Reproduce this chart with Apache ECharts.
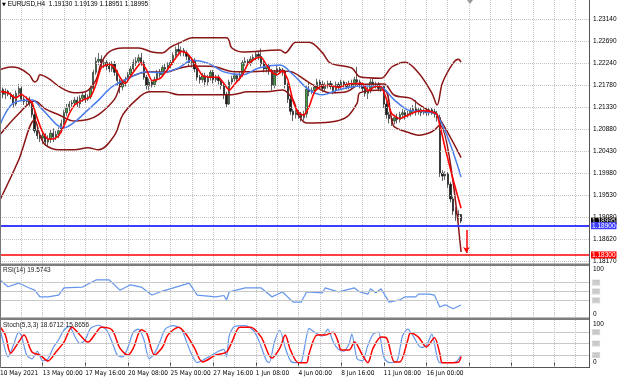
<!DOCTYPE html>
<html><head><meta charset="utf-8">
<script src="https://cdn.jsdelivr.net/npm/echarts@6/dist/echarts.min.js"></script>
<style>html,body{margin:0;padding:0;background:#fff}#c{width:620px;height:382px}</style>
</head><body><div id="c"></div>
<script>
// ---------- DATA ----------
const symbolName = 'EURUSD,H4';
const lastBarOHLC = ['1.19130', '1.19139', '1.18951', '1.18995'];
const rsiCaption = 'RSI(14) 19.5743';
const stochCaption = 'Stoch(5,3,3) 18.6712 15.8656';
const xTickLabels = ['10 May 2021','13 May 00:00','17 May 16:00','20 May 08:00','25 May 00:00','27 May 16:00','1 Jun 08:00','4 Jun 00:00','8 Jun 16:00','11 Jun 08:00','16 Jun 00:00'];
const priceTicks = [1.23140,1.22690,1.22240,1.21780,1.21330,1.20880,1.20430,1.19980,1.19530,1.19080,1.18620,1.18170];
const oscTicks = [0, 100];
const rsiLevels = [70, 50, 30];
const stochLevels = [80, 50, 20];
const blueLevel = 1.18900;
const redLevel = 1.18300;
const bidPrice = 1.18995;
const arrowFrom = [175, 1.1881];
const arrowTo = [175, 1.1834];

// candles: [open, close, low, high]
const candles = [
[1.2165,1.2170,1.2158,1.2178],[1.2170,1.2160,1.2152,1.2174],[1.2160,1.2166,1.2150,1.2172],[1.2166,1.2160,1.2156,1.2169],
[1.2160,1.2155,1.2150,1.2164],[1.2155,1.2140,1.2133,1.2160],[1.2140,1.2162,1.2136,1.2168],[1.2162,1.2172,1.2158,1.2181],[1.2172,1.2150,1.2146,1.2176],[1.2150,1.2145,1.2138,1.2156],
[1.2145,1.2150,1.2138,1.2156],[1.2150,1.2140,1.2135,1.2155],[1.2140,1.2118,1.2112,1.2146],[1.2118,1.2085,1.2080,1.2128],[1.2085,1.2075,1.2068,1.2094],[1.2075,1.2070,1.2062,1.2082],
[1.2070,1.2075,1.2058,1.2082],[1.2075,1.2062,1.2055,1.2080],[1.2062,1.2068,1.2051,1.2076],[1.2068,1.2080,1.2060,1.2088],[1.2080,1.2072,1.2062,1.2090],[1.2072,1.2078,1.2066,1.2085],
[1.2078,1.2085,1.2070,1.2092],[1.2085,1.2100,1.2080,1.2108],[1.2100,1.2122,1.2096,1.2128],[1.2122,1.2132,1.2115,1.2140],[1.2132,1.2140,1.2125,1.2146],[1.2140,1.2142,1.2134,1.2148],
[1.2142,1.2148,1.2136,1.2154],[1.2148,1.2140,1.2134,1.2155],[1.2140,1.2152,1.2132,1.2158],[1.2152,1.2158,1.2144,1.2164],[1.2158,1.2150,1.2142,1.2166],[1.2150,1.2155,1.2146,1.2160],
[1.2155,1.2172,1.2150,1.2178],[1.2172,1.2205,1.2168,1.2210],[1.2205,1.2228,1.2200,1.2236],[1.2228,1.2232,1.2220,1.2245],[1.2232,1.2222,1.2215,1.2240],[1.2222,1.2225,1.2214,1.2232],
[1.2225,1.2218,1.2210,1.2230],[1.2218,1.2212,1.2205,1.2226],[1.2212,1.2222,1.2206,1.2228],[1.2222,1.2205,1.2198,1.2228],[1.2205,1.2188,1.2178,1.2210],[1.2188,1.2175,1.2162,1.2192],
[1.2175,1.2182,1.2168,1.2188],[1.2182,1.2190,1.2176,1.2196],[1.2190,1.2200,1.2184,1.2206],[1.2200,1.2212,1.2194,1.2218],[1.2212,1.2225,1.2205,1.2232],[1.2225,1.2228,1.2218,1.2236],
[1.2228,1.2235,1.2220,1.2242],[1.2235,1.2225,1.2218,1.2245],[1.2225,1.2195,1.2190,1.2230],[1.2195,1.2178,1.2170,1.2200],[1.2178,1.2185,1.2168,1.2192],[1.2185,1.2180,1.2174,1.2190],
[1.2180,1.2190,1.2175,1.2196],[1.2190,1.2205,1.2185,1.2210],[1.2205,1.2200,1.2194,1.2212],[1.2200,1.2215,1.2196,1.2220],[1.2215,1.2212,1.2204,1.2222],[1.2212,1.2220,1.2208,1.2226],
[1.2220,1.2225,1.2214,1.2230],[1.2225,1.2240,1.2220,1.2246],[1.2240,1.2252,1.2234,1.2258],[1.2252,1.2248,1.2240,1.2266],[1.2248,1.2250,1.2238,1.2258],[1.2250,1.2245,1.2238,1.2255],
[1.2245,1.2238,1.2230,1.2250],[1.2238,1.2225,1.2218,1.2242],[1.2225,1.2230,1.2215,1.2236],[1.2230,1.2212,1.2205,1.2234],[1.2212,1.2195,1.2188,1.2216],[1.2195,1.2190,1.2182,1.2200],
[1.2190,1.2198,1.2184,1.2204],[1.2198,1.2185,1.2176,1.2204],[1.2185,1.2195,1.2178,1.2200],[1.2195,1.2205,1.2188,1.2210],[1.2205,1.2190,1.2182,1.2210],[1.2190,1.2195,1.2185,1.2200],
[1.2195,1.2188,1.2180,1.2200],[1.2188,1.2178,1.2170,1.2192],[1.2178,1.2160,1.2150,1.2182],[1.2160,1.2140,1.2133,1.2165],[1.2140,1.2185,1.2138,1.2190],[1.2185,1.2192,1.2180,1.2198],
[1.2192,1.2198,1.2186,1.2204],[1.2198,1.2192,1.2185,1.2202],[1.2192,1.2200,1.2188,1.2206],[1.2200,1.2225,1.2196,1.2230],[1.2225,1.2228,1.2218,1.2236],[1.2228,1.2224,1.2218,1.2232],
[1.2224,1.2232,1.2218,1.2238],[1.2232,1.2236,1.2226,1.2242],[1.2236,1.2242,1.2230,1.2248],[1.2242,1.2238,1.2230,1.2250],[1.2238,1.2222,1.2215,1.2254],[1.2222,1.2212,1.2205,1.2228],
[1.2212,1.2218,1.2205,1.2224],[1.2218,1.2208,1.2200,1.2222],[1.2208,1.2178,1.2168,1.2212],[1.2178,1.2205,1.2172,1.2210],[1.2205,1.2212,1.2198,1.2218],[1.2212,1.2210,1.2204,1.2216],
[1.2210,1.2206,1.2198,1.2214],[1.2206,1.2180,1.2172,1.2210],[1.2180,1.2150,1.2142,1.2184],[1.2150,1.2125,1.2118,1.2155],[1.2125,1.2118,1.2105,1.2130],[1.2118,1.2122,1.2110,1.2128],
[1.2122,1.2118,1.2110,1.2128],[1.2118,1.2112,1.2104,1.2124],[1.2112,1.2120,1.2106,1.2126],[1.2120,1.2170,1.2112,1.2178],[1.2170,1.2165,1.2156,1.2184],[1.2165,1.2168,1.2160,1.2174],
[1.2168,1.2175,1.2160,1.2180],[1.2175,1.2185,1.2170,1.2192],[1.2185,1.2180,1.2172,1.2190],[1.2180,1.2172,1.2164,1.2188],[1.2172,1.2178,1.2165,1.2184],[1.2178,1.2182,1.2172,1.2188],
[1.2182,1.2176,1.2170,1.2188],[1.2176,1.2168,1.2160,1.2182],[1.2168,1.2180,1.2162,1.2186],[1.2180,1.2175,1.2168,1.2185],[1.2175,1.2185,1.2170,1.2190],[1.2185,1.2180,1.2174,1.2188],
[1.2180,1.2176,1.2170,1.2185],[1.2176,1.2182,1.2170,1.2188],[1.2182,1.2178,1.2170,1.2190],[1.2178,1.2190,1.2174,1.2196],[1.2190,1.2185,1.2178,1.2216],[1.2185,1.2178,1.2172,1.2190],
[1.2178,1.2172,1.2164,1.2184],[1.2172,1.2162,1.2155,1.2178],[1.2162,1.2168,1.2150,1.2175],[1.2168,1.2185,1.2162,1.2192],[1.2185,1.2178,1.2170,1.2192],[1.2178,1.2180,1.2172,1.2186],
[1.2180,1.2172,1.2166,1.2185],[1.2172,1.2176,1.2165,1.2182],[1.2176,1.2140,1.2132,1.2178],[1.2140,1.2118,1.2110,1.2146],[1.2118,1.2110,1.2100,1.2124],[1.2110,1.2105,1.2095,1.2115],
[1.2105,1.2112,1.2098,1.2118],[1.2112,1.2108,1.2100,1.2120],[1.2108,1.2118,1.2102,1.2124],[1.2118,1.2122,1.2110,1.2130],[1.2122,1.2116,1.2108,1.2128],[1.2116,1.2120,1.2112,1.2126],
[1.2120,1.2126,1.2114,1.2132],[1.2126,1.2130,1.2118,1.2138],[1.2130,1.2124,1.2116,1.2148],[1.2124,1.2128,1.2118,1.2134],[1.2128,1.2122,1.2115,1.2132],[1.2122,1.2125,1.2118,1.2130],
[1.2125,1.2122,1.2116,1.2130],[1.2122,1.2128,1.2116,1.2134],[1.2128,1.2124,1.2118,1.2132],[1.2124,1.2120,1.2112,1.2130],[1.2120,1.2112,1.2104,1.2126],[1.2112,1.1998,1.1990,1.2118],
[1.1998,1.1992,1.1982,1.2004],[1.1992,1.1996,1.1984,1.2002],[1.1996,1.1975,1.1968,1.2000],[1.1975,1.1945,1.1938,1.1980],[1.1945,1.1920,1.1912,1.1950],[1.1920,1.1913,1.1900,1.1928],
[1.1913,1.1913,1.1902,1.1922],[1.19130,1.18995,1.18951,1.19139]
];

// indicator lines: [bar index, value]
const upperBand = [[0,1.2210],[4,1.2216],[7,1.2214],[11,1.2200],[13,1.2185],[14,1.2189],[15,1.2200],[18,1.2193],[23,1.2173],[28,1.2163],[32,1.2165],[36,1.2189],[38,1.2224],[41,1.2247],[46,1.2255],[52,1.2255],[57,1.2247],[61,1.2245],[64,1.2257],[68,1.2267],[72,1.2276],[85,1.2276],[87,1.2255],[91,1.2247],[105,1.2251],[107,1.2245],[111,1.2267],[116,1.2267],[121,1.2245],[124,1.2224],[132,1.2214],[135,1.2196],[143,1.2193],[147,1.2216],[152,1.2226],[157,1.2204],[162,1.2163],[164,1.2138],[166,1.2183],[170,1.2224],[172,1.2232],[173,1.2226]];
const middleBand = [[0,1.2077],[7,1.2120],[13,1.2146],[17,1.2130],[22,1.2118],[28,1.2105],[33,1.2108],[37,1.2118],[43,1.2150],[46,1.2186],[51,1.2200],[56,1.2206],[62,1.2205],[67,1.2213],[72,1.2218],[80,1.2217],[87,1.2207],[93,1.2206],[100,1.2208],[106,1.2208],[110,1.2205],[116,1.2184],[124,1.2163],[130,1.2165],[135,1.2180],[144,1.2181],[148,1.2158],[154,1.2152],[157,1.2140],[162,1.2123],[164,1.2118],[173,1.2030]];
const lowerBand = [[0,1.1943],[7,1.2025],[13,1.2107],[15,1.2076],[17,1.2056],[22,1.2046],[28,1.2046],[33,1.2050],[37,1.2046],[43,1.2076],[46,1.2117],[51,1.2148],[56,1.2165],[62,1.2165],[67,1.2159],[75,1.2159],[87,1.2159],[93,1.2165],[100,1.2165],[106,1.2169],[110,1.2148],[112,1.2117],[115,1.2101],[124,1.2103],[130,1.2113],[134,1.2142],[135,1.2163],[144,1.2169],[147,1.2107],[148,1.2093],[154,1.2080],[157,1.2076],[162,1.2083],[165,1.2097],[173,1.1836]];
const blueMA = [[0,1.2097],[5,1.2142],[12,1.2148],[16,1.2128],[24,1.2091],[28,1.2103],[33,1.2128],[37,1.2148],[42,1.2175],[49,1.2195],[55,1.2206],[60,1.2204],[67,1.2214],[72,1.2230],[78,1.2224],[84,1.2206],[91,1.2200],[97,1.2214],[105,1.2220],[110,1.2200],[116,1.2169],[121,1.2159],[127,1.2169],[135,1.2177],[142,1.2177],[148,1.2148],[153,1.2128],[159,1.2124],[164,1.2117],[173,1.1990]];
const redMA = [[0,1.2166],[3,1.2163],[6,1.2152],[8,1.2160],[10,1.2152],[12,1.2143],[14,1.2110],[16,1.2082],[18,1.2068],[20,1.2068],[22,1.2075],[24,1.2095],[26,1.2120],[28,1.2138],[31,1.2148],[34,1.2155],[36,1.2180],[38,1.2215],[41,1.2222],[43,1.2215],[45,1.2195],[47,1.2182],[50,1.2205],[53,1.2225],[55,1.2210],[57,1.2188],[60,1.2192],[63,1.2212],[66,1.2235],[68,1.2248],[70,1.2245],[72,1.2232],[74,1.2215],[76,1.2198],[79,1.2195],[82,1.2195],[84,1.2182],[86,1.2168],[88,1.2180],[91,1.2200],[93,1.2222],[96,1.2234],[98,1.2236],[100,1.2220],[102,1.2205],[104,1.2200],[106,1.2208],[108,1.2190],[110,1.2145],[112,1.2122],[114,1.2117],[116,1.2135],[118,1.2165],[121,1.2178],[124,1.2178],[127,1.2174],[130,1.2180],[133,1.2182],[136,1.2182],[138,1.2168],[141,1.2176],[143,1.2176],[145,1.2150],[147,1.2120],[150,1.2110],[153,1.2117],[156,1.2124],[159,1.2126],[162,1.2124],[164,1.2118],[167,1.2050],[170,1.1985],[173,1.1926]];
const rsi = [[0,75.9],[3,60.8],[7,69],[11,58],[13,53],[15,38],[18,38],[22,42],[24,58],[31,60],[36,76],[41,76],[45,53],[49,65],[53,60],[57,42],[60,49],[66,60],[71,69],[74,42],[81,38],[84,41],[85,31],[86,49],[92,58],[98,58],[102,38],[106,49],[110,26],[113,26],[115,49],[121,47],[122,58],[127,49],[133,58],[135,49],[138,44],[139,56],[141,47],[143,56],[146,26],[150,31],[152,38],[156,38],[157,44],[161,44],[163,42],[165,15],[167,20],[170,11],[173,19.6]];
const stochMain = [[0,90],[1,60],[3,15],[5,45],[7,80],[8,72],[10,20],[12,10],[14,30],[16,5],[18,10],[20,40],[22,60],[24,85],[26,95],[28,70],[30,50],[32,60],[34,90],[37,98],[40,85],[42,55],[44,20],[46,15],[48,40],[50,80],[52,88],[54,60],[56,10],[58,25],[60,55],[62,88],[65,97],[68,88],[70,55],[72,20],[74,0],[77,10],[80,22],[82,30],[84,35],[85,15],[86,70],[88,95],[92,97],[95,85],[97,60],[100,5],[101,0],[103,55],[105,85],[107,40],[109,5],[111,0],[113,2],[114,30],[116,90],[118,80],[121,70],[123,88],[125,55],[127,35],[129,30],[131,50],[132,75],[134,10],[136,5],[138,45],[140,75],[142,80],[144,15],[146,0],[149,5],[151,70],[153,88],[155,70],[158,40],[160,45],[162,75],[164,15],[165,0],[168,0],[171,2],[173,18.67]];
const stochSignal = [[0,94],[2,72.5],[4,25],[7,54],[9,72.5],[12,28],[15,20],[18,4.5],[21,28],[24,54],[27,93],[30,72.5],[33,54],[36,78],[38,93],[42,86],[45,38],[48,20],[50,38],[53,86],[55,78],[58,20],[61,41],[63,72.5],[67,93],[70,72.5],[73,38],[76,2],[81,20],[85,28],[87,54],[90,93],[94,93],[98,67],[102,12],[105,38],[107,72.5],[109,33],[112,0],[115,0],[116,25],[119,72.5],[122,72.5],[125,80],[127,52],[128,33],[131,33],[133,54],[136,20],[138,0],[140,38],[143,67],[145,65],[148,2],[150,2],[153,59],[154,78],[157,67],[160,41],[163,65],[165,25],[166,0],[170,0],[172,1],[173,15.87]];

// ---------- CHART ----------
const slotCount = 222;
const slots = [];
for (let i = 0; i < slotCount; i++) slots.push(String(i));
const FONT = "'Liberation Sans', Arial, sans-serif";
const NARROW = "'Liberation Sans Narrow', 'DejaVu Sans Condensed', 'Liberation Sans', sans-serif";
const every16 = (i) => i % 16 === 0;
const every8 = (i) => i % 8 === 0;
const gridLine = {type: 'dotted', color: '#c4c4c4', width: 1};

const chart = echarts.init(document.getElementById('c'), null, {renderer: 'canvas'});

function xAxisFor(g) {
  return {
    type: 'category', gridIndex: g, data: slots, boundaryGap: false,
    axisLine: {show: false},
    axisTick: {show: g === 2, interval: every16, length: 3, lineStyle: {color: '#444'}},
    axisLabel: {show: g === 2, interval: every16, align: 'left', margin: 3,
      fontSize: 6.5, fontFamily: NARROW, color: '#000',
      formatter: (v, idx) => xTickLabels[Math.round(idx / 16)] || ''},
    splitLine: {show: true, interval: every8, lineStyle: gridLine}
  };
}
function yLabel(vals, fmt) {
  return {customValues: vals, formatter: fmt, fontSize: 6.5, fontFamily: FONT, color: '#000', margin: 4};
}
function lineSeries(name, data, color, width, x, y, smooth, z) {
  return {name, type: 'line', data, xAxisIndex: x, yAxisIndex: y, showSymbol: false, symbol: 'none',
    smooth: smooth, lineStyle: {color, width}, z: z || 3, silent: true};
}
function levelMarks(levels) {
  return {silent: true, symbol: 'none', precision: 6,
    lineStyle: {type: 'solid', color: '#c8c8c8', width: 1},
    label: {show: true, position: 'end', distance: 3, formatter: (p) => String(p.value),
      fontSize: 5.5, lineHeight: 6, fontFamily: FONT, color: '#b4b4b4', backgroundColor: '#d6d6d6', padding: [0, 1]},
    data: levels.map(v => ({yAxis: v}))};
}
// one helper series per horizontal price line
function priceLine(value, lineColor, lineWidth, labelBg, z) {
  return {type: 'line', data: [], xAxisIndex: 0, yAxisIndex: 0, z: z, silent: true,
    markLine: {silent: true, symbol: 'none', precision: 6,
      lineStyle: {color: lineColor, width: lineWidth, type: 'solid'},
      label: {show: true, position: 'end', distance: 2, color: '#fff', backgroundColor: labelBg,
        padding: [0, 1], lineHeight: 7, fontSize: 6.5, fontFamily: FONT, formatter: () => value.toFixed(5)},
      data: [{yAxis: value}]}};
}

const option = {
  animation: false,
  backgroundColor: '#ffffff',
  textStyle: {fontFamily: FONT},
  title: [
    {text: '{t|▼} ' + symbolName + '  ' + lastBarOHLC.join(' '), left: 2, top: 1, padding: 0,
      textStyle: {fontSize: 6.5, fontWeight: 'normal', color: '#000', fontFamily: FONT,
        rich: {t: {fontSize: 5, fontFamily: 'DejaVu Sans', color: '#000'}}}},
    {text: rsiCaption, left: 3, top: 266.5, padding: 0,
      textStyle: {fontSize: 6.5, fontWeight: 'normal', color: '#222', fontFamily: FONT}},
    {text: stochCaption, left: 3, top: 321.5, padding: 0,
      textStyle: {fontSize: 6.5, fontWeight: 'normal', color: '#222', fontFamily: FONT}}
  ],
  grid: [
    {left: 0, right: 31, top: 0, height: 264, outerBoundsMode: 'none'},
    {left: 0, right: 31, top: 266, height: 51, outerBoundsMode: 'none'},
    {left: 0, right: 31, top: 320, height: 47.2, outerBoundsMode: 'none'}
  ],
  xAxis: [xAxisFor(0), xAxisFor(1), xAxisFor(2)],
  yAxis: [
    {type: 'value', gridIndex: 0, position: 'right', min: 1.18114, max: 1.23536,
      axisLine: {show: false}, axisTick: {show: false}, splitLine: {show: false},
      axisLabel: yLabel(priceTicks, (v) => v.toFixed(5))},
    {type: 'value', gridIndex: 1, position: 'right', min: -7.4, max: 107.4,
      axisLine: {show: false}, axisTick: {show: false}, splitLine: {show: false},
      axisLabel: yLabel(oscTicks, (v) => String(Math.round(v)))},
    {type: 'value', gridIndex: 2, position: 'right', min: -11.8, max: 111.8,
      axisLine: {show: false}, axisTick: {show: false}, splitLine: {show: false},
      axisLabel: yLabel(oscTicks, (v) => String(Math.round(v)))}
  ],
  series: [
    {type: 'line', data: [], xAxisIndex: 0, yAxisIndex: 0, z: 1, silent: true,
      markLine: {silent: true, symbol: 'none', precision: 6, label: {show: false}, lineStyle: gridLine,
        data: priceTicks.map(v => ({yAxis: v}))}},
    {type: 'candlestick', data: candles, xAxisIndex: 0, yAxisIndex: 0, barWidth: 1.8, z: 2,
      itemStyle: {color: '#3da53d', color0: '#1a1a1a', borderColor: '#2c2c2c', borderColor0: '#1a1a1a', borderWidth: 0.7}},
    lineSeries('upper', upperBand, '#8b1515', 1.5, 0, 0, 0.35),
    lineSeries('middle', middleBand, '#8b1515', 1.5, 0, 0, 0.35),
    lineSeries('lower', lowerBand, '#8b1515', 1.5, 0, 0, 0.35),
    lineSeries('blue', blueMA, '#4a7cec', 1.5, 0, 0, 0.35),
    lineSeries('red', redMA, '#ff0000', 1.6, 0, 0, 0.15, 4),
    priceLine(bidPrice, 'rgba(0,0,0,0)', 1, '#000000', 6),
    priceLine(blueLevel, '#3c3cff', 2, '#3c3cff', 5),
    priceLine(redLevel, '#ff0000', 1.5, '#ff0000', 5),
    {type: 'line', data: [], xAxisIndex: 0, yAxisIndex: 0, z: 6, silent: true,
      markLine: {silent: true, symbol: ['none', 'arrow'], symbolSize: [5, 6], precision: 6,
        lineStyle: {color: '#ff0000', width: 1.5, type: 'solid'}, label: {show: false},
        data: [[{coord: arrowFrom}, {coord: arrowTo}]]}},
    Object.assign(lineSeries('rsi', rsi, '#6495ed', 1.2, 1, 1, 0), {markLine: levelMarks(rsiLevels)}),
    Object.assign(lineSeries('stochMain', stochMain, '#6495ed', 1.2, 2, 2, 0.25), {markLine: levelMarks(stochLevels)}),
    lineSeries('stochSignal', stochSignal, '#ff0000', 1.5, 2, 2, 0.3, 4)
  ],
  graphic: [
    {type: 'rect', shape: {x: 0, y: 263.5, width: 590, height: 2.5}, style: {fill: '#7d7d7d'}, silent: true, z: 100},
    {type: 'rect', shape: {x: 0, y: 317.5, width: 590, height: 2.5}, style: {fill: '#7d7d7d'}, silent: true, z: 100},
    {type: 'line', shape: {x1: 0, y1: 367.5, x2: 590, y2: 367.5}, style: {stroke: '#555', lineWidth: 1}, silent: true, z: 100},
    {type: 'line', shape: {x1: 589.5, y1: 0, x2: 589.5, y2: 368}, style: {stroke: '#555', lineWidth: 1}, silent: true, z: 100},
    {type: 'line', shape: {x1: 0.5, y1: 0, x2: 0.5, y2: 368}, style: {stroke: '#777', lineWidth: 1}, silent: true, z: 100},
    {type: 'polygon', shape: {points: [[467, 0], [473, 0], [470, 4]]}, style: {fill: '#9a9a9a'}, silent: true, z: 100}
  ]
};
chart.setOption(option);
</script>
</body></html>
